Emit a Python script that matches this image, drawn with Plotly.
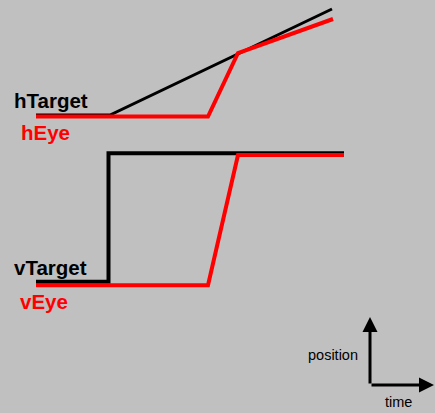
import plotly.graph_objects as go

# time runs left to right, position is measured upward from the bottom edge
time_h_target = [36, 110, 332]
pos_h_target = [298, 298, 404]
time_h_eye = [36, 208, 238, 333]
pos_h_eye = [296.5, 296.5, 360, 394]

time_v_target = [36, 108.5, 108.5, 344]
pos_v_target = [131.3, 131.3, 259.7, 259.7]
time_v_eye = [36, 208, 238, 344]
pos_v_eye = [127.7, 127.7, 258, 258]

labels = ["hTarget", "hEye", "vTarget", "vEye"]
label_x = [12, 19, 12, 18]
label_y = [313, 281, 146, 112]
label_colors = ["black", "red", "black", "red"]

bg = "#c0c0c0"

fig = go.Figure()
fig.add_trace(go.Scatter(x=time_h_target, y=pos_h_target, mode="lines",
                         line=dict(color="black", width=3)))
fig.add_trace(go.Scatter(x=time_h_eye, y=pos_h_eye, mode="lines",
                         line=dict(color="red", width=4)))
fig.add_trace(go.Scatter(x=time_v_target, y=pos_v_target, mode="lines",
                         line=dict(color="black", width=4)))
fig.add_trace(go.Scatter(x=time_v_eye, y=pos_v_eye, mode="lines",
                         line=dict(color="red", width=4)))

for txt, lx, ly, c in zip(labels, label_x, label_y, label_colors):
    fig.add_annotation(x=lx, y=ly, text="<b>" + txt + "</b>", showarrow=False,
                       xanchor="left", yanchor="middle",
                       font=dict(family="Liberation Sans, Arial", size=20.5, color=c))

# little position/time axes key in the corner
origin_x, origin_y = 370, 28
for tip_x, tip_y in [(370, 96), (434, 28)]:
    fig.add_annotation(x=tip_x, y=tip_y, ax=origin_x, ay=origin_y,
                       xref="x", yref="y", axref="x", ayref="y",
                       text="", showarrow=True, arrowhead=2, arrowsize=1,
                       arrowwidth=3, arrowcolor="black", standoff=0)
fig.add_annotation(x=333, y=58, text="position", showarrow=False,
                   font=dict(family="Liberation Sans, Arial", size=14.5, color="black"))
fig.add_annotation(x=398, y=11, text="time", showarrow=False,
                   font=dict(family="Liberation Sans, Arial", size=14.5, color="black"))

fig.update_xaxes(range=[0, 435], visible=False)
fig.update_yaxes(range=[0, 413], visible=False)
fig.update_layout(width=435, height=413, margin=dict(l=0, r=0, t=0, b=0),
                  paper_bgcolor=bg, plot_bgcolor=bg, showlegend=False)

fig.write_html("out.html", config={"displayModeBar": False},
               post_script="document.body.style.margin='0';")
